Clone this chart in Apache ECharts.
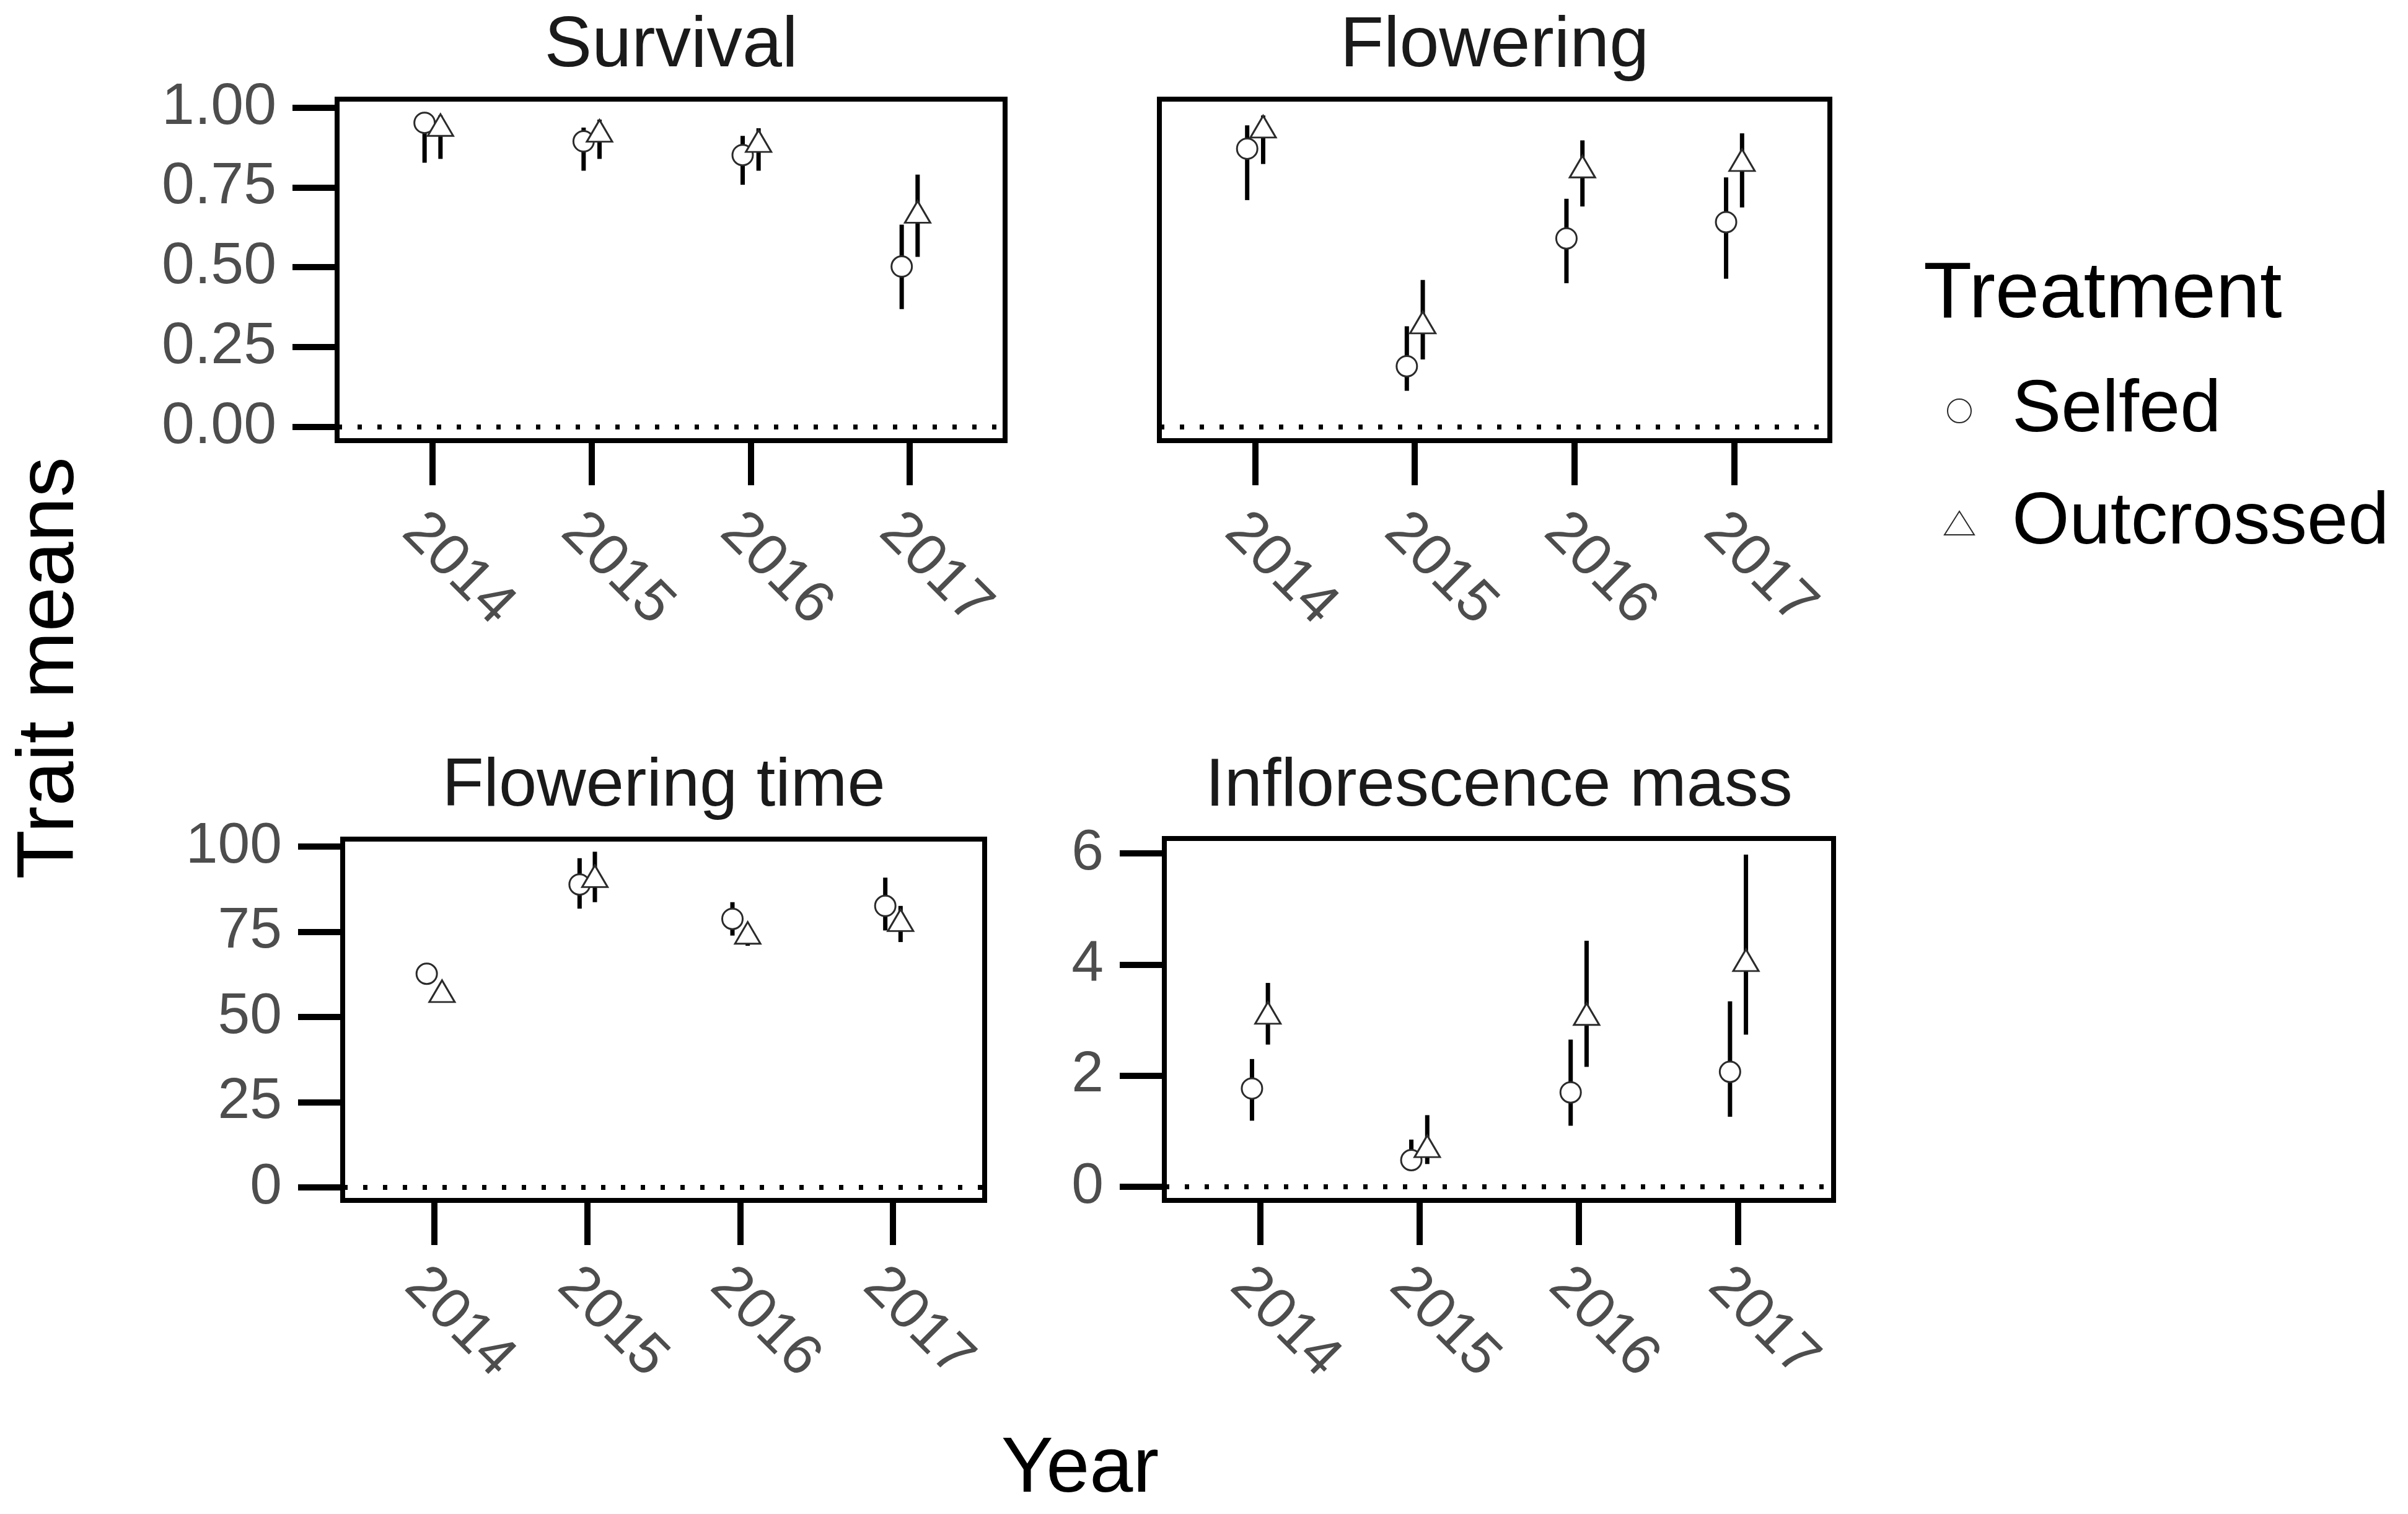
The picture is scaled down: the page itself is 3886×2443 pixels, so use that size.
<!DOCTYPE html>
<html>
<head>
<meta charset="utf-8">
<title>Trait means</title>
<script src="https://cdn.jsdelivr.net/npm/echarts@6/dist/echarts.min.js"></script>
<style>
  html, body { margin: 0; padding: 0; background: #fff; }
  #container { width: 3886px; height: 2443px; }
</style>
</head>
<body>
<div id="container"></div>
<script>
// x categories
var years = ['2014', '2015', '2016', '2017']
var panelNames = ['Survival', 'Flowering', 'Flowering time', 'Inflorescence mass']

// Survival
var survSelfed = [0.952, 0.894, 0.851, 0.502]
var survSelfedLo = [0.827, 0.802, 0.758, 0.369]
var survSelfedHi = [0.985, 0.937, 0.911, 0.633]
var survOut = [0.945, 0.927, 0.895, 0.673]
var survOutLo = [0.839, 0.839, 0.802, 0.532]
var survOutHi = [0.975, 0.962, 0.935, 0.790]

// Flowering
var flowSelfed = [0.871, 0.190, 0.590, 0.641]
var flowSelfedLo = [0.710, 0.113, 0.450, 0.464]
var flowSelfedHi = [0.944, 0.315, 0.714, 0.781]
var flowOut = [0.940, 0.327, 0.815, 0.835]
var flowOutLo = [0.823, 0.211, 0.690, 0.687]
var flowOutHi = [0.975, 0.460, 0.897, 0.919]

// Flowering time
var timeSelfed = [62.7, 88.9, 78.8, 82.6]
var timeSelfedLo = [60.5, 81.8, 73.9, 75.4]
var timeSelfedHi = [65.8, 96.6, 83.7, 90.9]
var timeOut = [57.6, 91.3, 74.7, 78.4]
var timeOutLo = [56.0, 83.7, 70.9, 72.0]
var timeOutHi = [59.5, 98.5, 77.0, 82.6]

// Inflorescence mass
var massSelfed = [1.77, 0.48, 1.70, 2.07]
var massSelfedLo = [1.19, 0.29, 1.10, 1.26]
var massSelfedHi = [2.30, 0.85, 2.65, 3.34]
var massOut = [3.13, 0.73, 3.11, 4.08]
var massOutLo = [2.56, 0.41, 2.16, 2.74]
var massOutHi = [3.67, 1.29, 4.43, 5.98]

// tick labels
var propTicks = [0, 0.25, 0.5, 0.75, 1]
var timeTicks = [0, 25, 50, 75, 100]
var massTicks = [0, 2, 4, 6]

var FONT = '"Liberation Sans", Arial, Helvetica, sans-serif'
var dodge = 0.05

var panels = [
  { selfed: [survSelfed, survSelfedLo, survSelfedHi], out: [survOut, survOutLo, survOutHi],
    ticks: propTicks, digits: 2, showY: true, yMin: -0.043, yMax: 1.026, labelSize: 95, xMargin: 99,
    grid: { left: 544, top: 160, width: 1078, height: 551 } },
  { selfed: [flowSelfed, flowSelfedLo, flowSelfedHi], out: [flowOut, flowOutLo, flowOutHi],
    ticks: propTicks, digits: 2, showY: false, yMin: -0.043, yMax: 1.026, labelSize: 95, xMargin: 99,
    grid: { left: 1871, top: 160, width: 1082, height: 551 } },
  { selfed: [timeSelfed, timeSelfedLo, timeSelfedHi], out: [timeOut, timeOutLo, timeOutHi],
    ticks: timeTicks, digits: 0, showY: true, yMin: -3.8, yMax: 102.2, labelSize: 93, xMargin: 91,
    grid: { left: 553, top: 1354, width: 1036, height: 583 } },
  { selfed: [massSelfed, massSelfedLo, massSelfedHi], out: [massOut, massOutLo, massOutHi],
    ticks: massTicks, digits: 0, showY: true, yMin: -0.245, yMax: 6.27, labelSize: 93, xMargin: 91,
    grid: { left: 1879, top: 1353, width: 1080, height: 584 } }
]

// 误差线
function renderBar(params, api) {
  var a = api.coord([api.value(0), api.value(1)])
  var b = api.coord([api.value(0), api.value(2)])
  return {
    type: 'line',
    shape: { x1: a[0], y1: a[1], x2: b[0], y2: b[1] },
    style: { stroke: '#000', lineWidth: 7 }
  }
}

var grids = [], xAxes = [], yAxes = [], series = []

panels.forEach(function (p, i) {
  grids.push(Object.assign({ show: true, borderColor: '#000', borderWidth: 8, backgroundColor: '#fff' }, p.grid))

  xAxes.push({
    type: 'value', gridIndex: i, min: 0.4, max: 4.6,
    splitLine: { show: false },
    axisLine: { show: false, onZero: false },
    axisTick: { show: true, length: 72, customValues: [1, 2, 3, 4], lineStyle: { color: '#000', width: 10 } },
    axisLabel: {
      show: true, customValues: [1, 2, 3, 4], rotate: -45, margin: p.xMargin,
      verticalAlign: 'top',
      color: '#4d4d4d', fontSize: p.labelSize, fontFamily: FONT,
      formatter: function (v) { return years[Math.round(v) - 1] }
    }
  })

  yAxes.push({
    type: 'value', gridIndex: i, min: p.yMin, max: p.yMax,
    splitLine: { show: false },
    axisLine: { show: false, onZero: false },
    axisTick: { show: p.showY, length: 72, customValues: p.ticks, lineStyle: { color: '#000', width: 10 } },
    axisLabel: {
      show: p.showY, customValues: p.ticks, margin: 98,
      color: '#4d4d4d', fontSize: p.labelSize, fontFamily: FONT,
      formatter: function (v) { return v.toFixed(p.digits) }
    }
  })

  var bars = []
  years.forEach(function (y, k) {
    bars.push([k + 1 - dodge, p.selfed[1][k], p.selfed[2][k]])
    bars.push([k + 1 + dodge, p.out[1][k], p.out[2][k]])
  })
  series.push({
    type: 'custom', xAxisIndex: i, yAxisIndex: i, z: 2, silent: true,
    renderItem: renderBar, encode: { x: 0, y: [1, 2] }, data: bars,
    // dotted zero line
    markLine: {
      silent: true, symbol: ['none', 'none'], label: { show: false },
      lineStyle: { color: '#000', width: 8, type: [7, 25], dashOffset: -1, cap: 'butt' },
      data: [{ yAxis: 0 }]
    }
  })

  series.push({
    name: 'Selfed', type: 'scatter', xAxisIndex: i, yAxisIndex: i, z: 3,
    symbol: 'circle', symbolSize: 33,
    itemStyle: { color: '#fff', borderColor: '#2b2b2b', borderWidth: 3, opacity: 1 },
    data: p.selfed[0].map(function (v, k) { return [k + 1 - dodge, v] })
  })
  series.push({
    name: 'Outcrossed', type: 'scatter', xAxisIndex: i, yAxisIndex: i, z: 3,
    symbol: 'triangle', symbolSize: [41, 35],
    itemStyle: { color: '#fff', borderColor: '#2b2b2b', borderWidth: 3, opacity: 1 },
    data: p.out[0].map(function (v, k) { return [k + 1 + dodge, v] })
  })
})

// panel titles + axis titles
var texts = [
  { type: 'text', x: 1083, y: 75, style: { text: panelNames[0], font: '115px ' + FONT, fill: '#1a1a1a', textAlign: 'center', textVerticalAlign: 'middle' } },
  { type: 'text', x: 2412, y: 75, style: { text: panelNames[1], font: '115px ' + FONT, fill: '#1a1a1a', textAlign: 'center', textVerticalAlign: 'middle' } },
  { type: 'text', x: 1071, y: 1270, style: { text: panelNames[2], font: '110px ' + FONT, fill: '#1a1a1a', textAlign: 'center', textVerticalAlign: 'middle' } },
  { type: 'text', x: 2419, y: 1270, style: { text: panelNames[3], font: '110px ' + FONT, fill: '#1a1a1a', textAlign: 'center', textVerticalAlign: 'middle' } },
  { type: 'text', x: 1743, y: 2372, style: { text: 'Year', font: '126px ' + FONT, fill: '#000', textAlign: 'center', textVerticalAlign: 'middle' } },
  { type: 'text', x: 82, y: 1078, rotation: Math.PI / 2, style: { text: 'Trait means', font: '130px ' + FONT, fill: '#000', textAlign: 'center', textVerticalAlign: 'middle' } },
  { type: 'text', x: 3104, y: 477, style: { text: 'Treatment', font: '128px ' + FONT, fill: '#000', textAlign: 'left', textVerticalAlign: 'middle' } }
]

var dom = document.getElementById('container')
var myChart = echarts.init(dom, null, { renderer: 'canvas' })
var option = {
  animation: false,
  backgroundColor: '#fff',
  grid: grids,
  xAxis: xAxes,
  yAxis: yAxes,
  legend: {
    orient: 'vertical', left: 3132, top: 588, padding: 5,
    selectedMode: false,
    itemWidth: 48, itemHeight: 38, itemGap: 41,
    data: ['Selfed', 'Outcrossed'],
    textStyle: { fontSize: 119, fontFamily: FONT, color: '#000', lineHeight: 140, padding: [0, 0, 0, 56] }
  },
  graphic: texts,
  series: series
}
myChart.setOption(option)
</script>
</body>
</html>
